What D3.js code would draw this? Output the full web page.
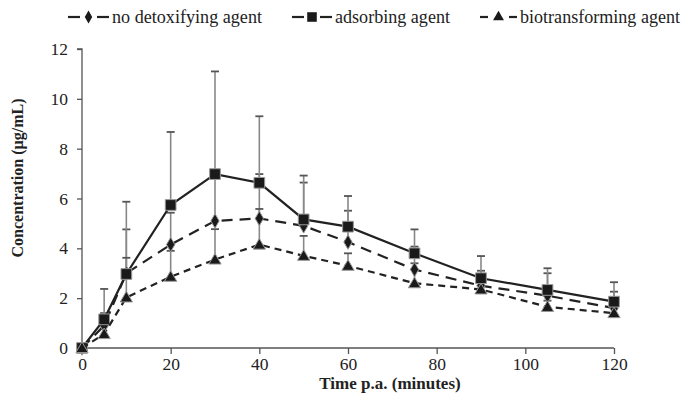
<!DOCTYPE html>
<html>
<head>
<meta charset="utf-8">
<script src="https://cdn.jsdelivr.net/npm/d3@7"></script>
<style>
  body { margin: 0; background: #fff; }
  text { font-family: "Liberation Serif", "Times New Roman", serif; fill: #222; }
</style>
</head>
<body>
<svg id="chart" width="683" height="396"></svg>
<script>
const times = [0, 5, 10, 20, 30, 40, 50, 60, 75, 90, 105, 120];

const noDetox = [0, 0.9, 3.0, 4.15, 5.1, 5.2, 4.9, 4.25, 3.15, 2.5, 2.1, 1.6];
const noDetoxUpper = [0, 1.4, 4.76, 5.43, 6.85, 6.98, 6.64, 5.51, 4.07, 3.1, 3.0, 2.26];

const adsorbing = [0, 1.15, 2.97, 5.74, 6.98, 6.63, 5.16, 4.87, 3.8, 2.8, 2.33, 1.86];
const adsorbingUpper = [0, 2.37, 5.87, 8.67, 11.1, 9.3, 6.92, 6.1, 4.76, 3.69, 3.2, 2.64];

const biotrans = [0, 0.56, 2.03, 2.86, 3.55, 4.15, 3.7, 3.3, 2.6, 2.35, 1.65, 1.4];
const biotransUpper = [0, 0.9, 3.62, 3.9, 4.77, 5.58, 4.5, 3.8, 3.4, 2.7, 1.9, 1.6];

const xTicks = [0, 20, 40, 60, 80, 100, 120];
const yTicks = [0, 2, 4, 6, 8, 10, 12];

const series = [
    { name: 'no detoxifying agent', values: noDetox, upper: noDetoxUpper, marker: 'diamond', dash: '11,7' },
    { name: 'adsorbing agent', values: adsorbing, upper: adsorbingUpper, marker: 'square', dash: null },
    { name: 'biotransforming agent', values: biotrans, upper: biotransUpper, marker: 'triangle', dash: '7,5' }
];

const svg = d3.select('#chart'),
    plotLeft = 82, plotRight = 614, plotTop = 49, plotBottom = 348,
    ink = '#222', errColor = '#888';

const x = d3.scaleLinear().domain([0, 120]).range([plotLeft, plotRight]);
const y = d3.scaleLinear().domain([0, 12]).range([plotBottom, plotTop]);

// axes
const xAxis = svg.append('g')
    .attr('transform', 'translate(0,' + plotBottom + ')')
    .call(d3.axisBottom(x).tickValues(xTicks).tickSize(6).tickPadding(4));
const yAxis = svg.append('g')
    .attr('transform', 'translate(' + plotLeft + ',0)')
    .call(d3.axisLeft(y).tickValues(yTicks).tickSize(5).tickPadding(9));

[xAxis, yAxis].forEach(a => {
    a.select('.domain').attr('stroke', '#555').attr('stroke-width', 1.3);
    a.selectAll('.tick line').attr('stroke', '#555').attr('stroke-width', 1.3);
    a.selectAll('.tick text').style('font-size', '17.5px').attr('fill', '#333')
        .style('font-family', '"Liberation Serif", serif');
});
xAxis.select('.domain').attr('d', 'M' + plotLeft + ',0H' + plotRight);
yAxis.select('.domain').attr('d', 'M-5,' + plotTop + 'H0V' + plotBottom);

svg.append('text')
    .attr('x', 390).attr('y', 389)
    .attr('text-anchor', 'middle')
    .style('font-size', '17px').style('font-weight', 'bold')
    .text('Time p.a. (minutes)');

svg.append('text')
    .attr('transform', 'translate(23,178) rotate(-90)')
    .attr('text-anchor', 'middle')
    .style('font-size', '16px').style('font-weight', 'bold')
    .text('Concentration (µg/mL)');

function markerPath(type, size) {
    const sym = { square: d3.symbolSquare, diamond: d3.symbolDiamond, triangle: d3.symbolTriangle }[type];
    return d3.symbol().type(sym).size(size)();
}
const markerSize = { square: 115, diamond: 60, triangle: 65 };

const line = d3.line().x(d => x(d.t)).y(d => y(d.v));

// error bars (upper only)
series.forEach(s => {
    const pts = times.map((t, i) => ({ t: t, v: s.values[i], u: s.upper[i] })).filter(d => d.u > d.v);
    const g = svg.append('g');
    g.selectAll('line.err').data(pts).join('line')
        .attr('x1', d => x(d.t)).attr('x2', d => x(d.t))
        .attr('y1', d => y(d.v)).attr('y2', d => y(d.u))
        .attr('stroke', errColor).attr('stroke-width', 1.6);
    g.selectAll('line.cap').data(pts).join('line')
        .attr('x1', d => x(d.t) - 4).attr('x2', d => x(d.t) + 4)
        .attr('y1', d => y(d.u)).attr('y2', d => y(d.u))
        .attr('stroke', '#555').attr('stroke-width', 1.8);
});

// lines and markers
series.forEach(s => {
    const pts = times.map((t, i) => ({ t: t, v: s.values[i] }));
    svg.append('path').datum(pts)
        .attr('d', line)
        .attr('fill', 'none')
        .attr('stroke', ink)
        .attr('stroke-width', 2.2)
        .attr('stroke-dasharray', s.dash);
    svg.append('g').selectAll('path').data(pts).join('path')
        .attr('transform', d => 'translate(' + x(d.t) + ',' + (y(d.v) + (s.marker === 'triangle' ? 1 : 0)) + ')')
        .attr('d', markerPath(s.marker, markerSize[s.marker]))
        .attr('fill', '#1a1a1a')
        .attr('stroke', '#999').attr('stroke-width', 1);
});

// legend
const legendX = [68, 292, 480],
    legendTextX = [44, 43, 40],
    legendTextLen = [150, 115, 160];
series.forEach((s, i) => {
    const g = svg.append('g').attr('transform', 'translate(' + legendX[i] + ',17)');
    const segLen = s.marker === 'triangle' ? 8 : 12;
    const w = legendTextX[i] - 3;
    g.append('line').attr('x1', 0).attr('x2', segLen)
        .attr('y1', 0).attr('y2', 0).attr('stroke', ink).attr('stroke-width', 2.2);
    g.append('line').attr('x1', w - segLen).attr('x2', w)
        .attr('y1', 0).attr('y2', 0).attr('stroke', ink).attr('stroke-width', 2.2);
    g.append('path').attr('transform', 'translate(' + (w / 2) + ',0)')
        .attr('d', markerPath(s.marker, markerSize[s.marker] * 0.8))
        .attr('fill', '#1a1a1a');
    g.append('text').attr('x', legendTextX[i]).attr('y', 5.5)
        .style('font-size', '18px')
        .attr('textLength', legendTextLen[i])
        .attr('lengthAdjust', 'spacingAndGlyphs')
        .text(s.name);
});
</script>
</body>
</html>
